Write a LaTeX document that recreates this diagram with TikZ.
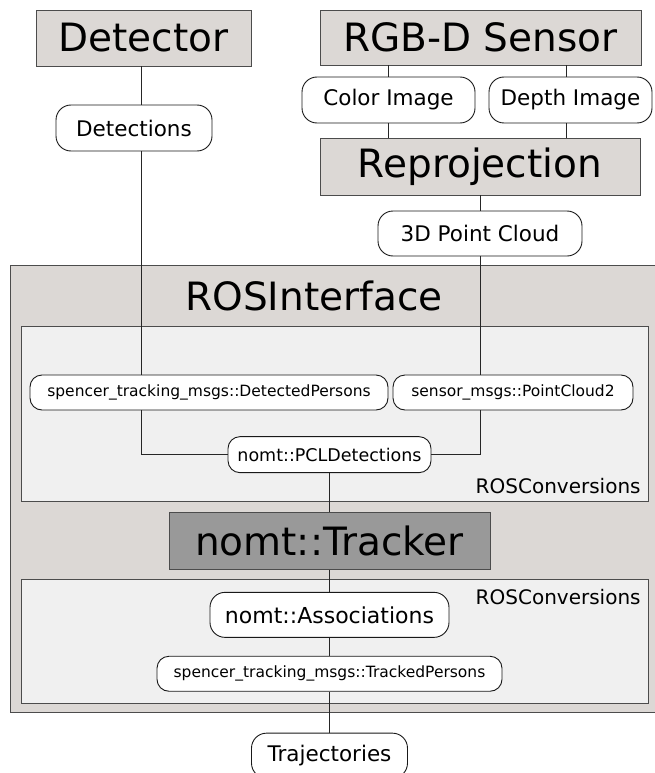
\documentclass[tikz,border=0pt]{standalone}
\usepackage{fontspec}
\setmainfont{DejaVu Sans}
\usepackage{tikz}
\usetikzlibrary{positioning,calc}

\definecolor{boxgray}{RGB}{220,216,213}
\definecolor{convgray}{RGB}{240,240,240}
\definecolor{trackgray}{RGB}{153,153,153}

\begin{document}
\begin{tikzpicture}[
    x=1pt, y=1pt,
    node distance=20pt and 20pt,
    proc/.style={draw=black!70, line width=0.8pt, fill=boxgray, inner sep=0pt, minimum height=56pt, font=\fontsize{39}{44}\selectfont},
    msg/.style={draw=black!90, line width=0.9pt, fill=white, rounded corners=15pt, inner sep=0pt, minimum height=46pt, font=\fontsize{21.5}{25}\selectfont},
    smsg/.style={msg, rounded corners=12pt, minimum height=35pt, font=\fontsize{15.5}{18}\selectfont},
    grp/.style={draw=black!70, line width=0.8pt, inner sep=0pt, anchor=north west},
    lbl/.style={inner sep=0pt, font=\fontsize{20}{24}\selectfont},
    con/.style={draw=black!85, line width=0.9pt}
]
\useasboundingbox (0,0) rectangle (654,-773);

% containers
\node[grp, fill=boxgray, minimum width=650pt, minimum height=447pt] (rosif) at (10,-265) {};
\node[inner sep=0pt, anchor=base, font=\fontsize{39}{44}\selectfont] (rostitle) at (314,-310) {ROSInterface};
\node[grp, fill=convgray, minimum width=627pt, minimum height=175pt] (convin) at (21,-326) {};
\node[lbl, anchor=base east] (convinlbl) at ($(convin.south east)+(-8,8)$) {ROSConversions};
\node[grp, fill=convgray, minimum width=627pt, minimum height=124pt] (convout) at (21,-579) {};
\node[lbl, anchor=base east] (convoutlbl) at ($(convout.north east)+(-8,-25)$) {ROSConversions};

% sources
\node[proc, minimum width=215pt] (det) at (143.5,-38) {Detector};
\node[proc, minimum width=321pt, minimum height=55pt] (rgbd) at (480.5,-37.5) {RGB-D Sensor};
\node[msg, minimum width=156pt] (detections) at (134,-128) {Detections};
\node[msg, minimum width=173pt] (colimg) at (388.5,-100) {Color Image};
\node[msg, minimum width=163pt] (depimg) at (570.5,-100) {Depth Image};
\node[proc, minimum width=320pt, minimum height=57pt] (reproj) at (480,-166.5) {Reprojection};
\node[msg, minimum width=204pt, minimum height=45pt] (cloud) at (480,-233.5) {3D Point Cloud};

% ros side
\node[smsg, minimum width=358pt] (dper) at (209,-392.5) {spencer\_tracking\_msgs::DetectedPersons};
\node[smsg, minimum width=240pt] (pcl2) at (513,-392.5) {sensor\_msgs::PointCloud2};
\node[proc, fill=trackgray, minimum width=321pt, minimum height=57pt] (tracker) at (329.5,-541) {nomt::Tracker};
\node[smsg, minimum width=203pt, minimum height=36pt, font=\fontsize{17.5}{20}\selectfont, above=39pt of tracker] (pcld) {nomt::PCLDetections};
\node[msg, minimum width=239pt, minimum height=45pt, font=\fontsize{22}{26}\selectfont, below=22pt of tracker] (assoc) {nomt::Associations};
\node[smsg, minimum width=345pt, below=18pt of assoc] (tper) {spencer\_tracking\_msgs::TrackedPersons};
\node[msg, minimum width=156pt, minimum height=45pt, below=41pt of tper] (traj) {Trajectories};

% connectors
\coordinate (detx) at (141,0);
\coordinate (depx) at (566,0);
\draw[con] (det.south -| detx) -- (detections.north -| detx);
\draw[con] (detections.south -| detx) -- (dper.north -| detx);
\draw[con] (dper.south -| detx) |- (pcld.west);
\draw[con] (rgbd.south -| colimg) -- (colimg);
\draw[con] (colimg) -- (reproj.north -| colimg);
\draw[con] (rgbd.south -| depx) -- (depimg.north -| depx);
\draw[con] (depimg.south -| depx) -- (reproj.north -| depx);
\draw[con] (reproj) -- (cloud);
\draw[con] (cloud.south) -- (pcl2.north -| cloud);
\draw[con] (pcl2.south -| cloud) |- (pcld.east);
\foreach \a/\b in {pcld/tracker, tracker/assoc, assoc/tper, tper/traj}
    \draw[con] (\a) -- (\b);
\end{tikzpicture}
\end{document}
